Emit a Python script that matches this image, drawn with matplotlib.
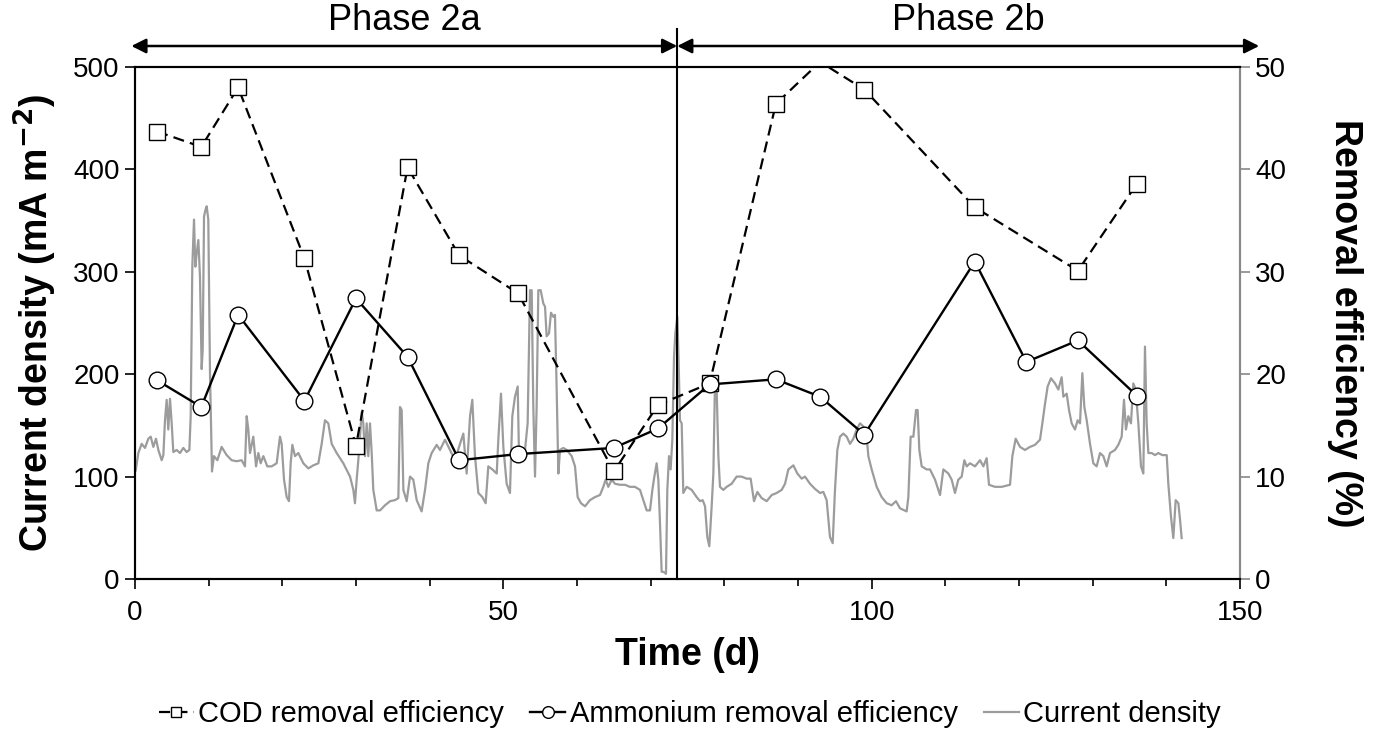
import matplotlib
matplotlib.use('Agg')
import matplotlib.pyplot as plt
from matplotlib.ticker import MultipleLocator

plt.rcParams['font.family'] = ['Liberation Sans', 'DejaVu Sans']

# sampling days and removal efficiencies (%)
cod_days = [3, 9, 14, 23, 30, 37, 44, 52, 65, 71, 78, 87, 93, 99, 114, 128, 136]
cod_removal = [43.7, 42.2, 48.0, 31.3, 13.0, 40.2, 31.6, 27.9, 10.5, 17.0, 19.1,
               46.4, 50.5, 47.8, 36.3, 30.1, 38.6]

nh4_days = [3, 9, 14, 23, 30, 37, 44, 52, 65, 71, 78, 87, 93, 99, 114, 121, 128, 136]
nh4_removal = [19.4, 16.8, 25.8, 17.4, 27.4, 21.7, 11.6, 12.2, 12.8, 14.7, 19.0,
               19.5, 17.8, 14.1, 31.0, 21.2, 23.3, 17.9]

# logged current density (mA m-2)
cd_days = [
    0.1, 0.45, 0.9, 1.36, 1.81, 2.13, 2.49, 2.85, 3.17, 3.62, 3.85, 4.07, 4.30, 4.52,
    4.75, 4.98, 5.20, 5.66, 6.11, 6.56, 7.01, 7.38, 7.56, 7.65, 7.78, 8.01, 8.19, 8.37,
    8.60, 8.82, 9.05, 9.19, 9.37, 9.55, 9.73, 9.95, 10.18, 10.32, 10.45, 10.72, 11.18,
    11.76, 12.44, 13.12, 13.80, 14.48, 14.93, 15.16, 15.38, 15.61, 16.06, 16.43, 16.74,
    17.06, 17.42, 17.96, 18.55, 19.23, 19.68, 19.91, 20.23, 20.59, 20.90, 21.13, 21.36,
    21.72, 22.17, 22.85, 23.53, 24.21, 24.89, 25.34, 25.79, 26.24, 26.70, 27.38, 28.28,
    29.19, 29.64, 29.86, 30.09, 30.36, 30.77, 30.99, 31.22, 31.45, 31.67, 31.90, 32.13,
    32.35, 32.81, 33.26, 33.94, 34.62, 35.29, 35.75,
    35.97, 36.20, 36.43, 36.88, 37.33, 37.78, 38.24, 38.91, 39.37, 39.82, 40.27, 40.95,
    41.40, 42.08, 42.76, 43.44, 44.12, 44.57, 45.02, 45.48, 45.79, 46.15, 46.61, 47.15,
    47.60, 47.96, 48.51, 49.10, 49.32, 49.68, 50.0, 50.45, 50.90, 51.22, 51.58, 51.95,
    52.13, 52.49, 52.94, 53.30, 53.62, 53.85, 54.07, 54.30, 54.52, 54.75, 55.07, 55.43,
    55.66, 55.88, 56.20, 56.47, 56.79, 57.01, 57.24, 57.47, 57.69, 58.14, 58.60, 59.28,
    59.73, 60.09, 60.54, 61.09, 61.76, 62.44, 63.12, 63.57, 63.89, 64.25, 64.71, 65.16,
    65.84, 66.52, 67.19, 67.87, 68.55, 69.0, 69.46, 69.91, 70.23, 70.50, 70.81, 71.04,
    71.27, 71.49, 71.76,
    72.08, 72.26, 72.49, 72.71, 72.94, 73.17, 73.35, 73.62, 73.8, 73.98, 74.21, 74.43,
    74.89, 75.57, 76.24, 76.70, 77.06, 77.38, 77.69, 77.96, 78.28, 78.51, 78.73, 78.96,
    79.19, 79.41, 79.86, 80.32, 80.99, 81.67, 82.35, 83.03, 83.57, 84.03, 84.48, 85.07,
    85.75, 86.43, 87.10, 87.78, 88.24, 88.69, 89.37, 89.91, 90.50, 90.95, 91.63, 92.31,
    92.99, 93.44, 93.89, 94.34, 94.71, 95.02, 95.34, 95.70, 96.15, 96.61, 97.06, 97.51,
    97.96, 98.42, 98.87, 99.32, 99.55, 100.0, 100.68, 101.36, 102.04, 102.71, 103.30,
    103.85, 104.75, 104.98, 105.29, 105.66, 106.02, 106.24, 106.47, 106.79, 107.47,
    107.92, 108.6, 109.28, 109.73, 110.41, 110.86, 111.31, 111.76, 112.22, 112.58,
    112.90, 113.35, 114.03, 114.71, 115.16, 115.61, 115.93, 116.74, 117.65, 118.78,
    119.10, 119.55, 120.14, 120.81, 121.49, 122.17, 122.85, 123.17, 123.53, 123.89,
    124.34, 124.89, 125.34, 125.79, 126.02, 126.47, 126.79, 127.15, 127.60, 127.96,
    128.28, 128.60, 128.87, 129.19, 129.64, 130.09, 130.54, 131.0, 131.45, 131.90,
    132.35, 133.03, 133.48, 133.94, 134.25, 134.52, 134.84, 135.20, 135.52, 135.84,
    136.20, 136.56, 136.88, 137.10, 137.33, 137.56, 138.01, 138.46, 138.91, 139.46,
    140.05, 140.27, 140.63, 140.95, 141.27, 141.63, 141.86, 142.08,
]
cd_values = [
    106, 123, 132, 128, 137, 139, 129, 137, 126, 116, 121, 155, 175, 146,
    176, 152, 124, 126, 123, 128, 124, 126, 159, 217, 305, 351, 305, 318,
    331, 295, 205, 224, 354, 360, 364, 351, 201, 152, 105, 120, 116,
    129, 121, 116, 115, 116, 110, 159, 146, 123, 139, 110, 123,
    113, 120, 110, 110, 113, 139, 132, 97, 80, 76, 113, 131,
    120, 123, 113, 108, 111, 113, 132, 155, 152, 132, 123, 113,
    100, 87, 74, 97, 120, 163, 152, 120, 152, 120, 152, 123,
    87, 67, 67, 72, 76, 77, 79,
    168, 165, 87, 76, 100, 97, 77, 66, 87, 113, 123, 131,
    126, 136, 126, 116, 132, 142, 103, 159, 175, 120, 84, 80,
    74, 110, 107, 103, 136, 181, 129, 93, 84, 159, 178, 188,
    120, 116, 126, 152, 282, 282, 168, 100, 168, 282, 282, 269,
    266, 237, 240, 260, 256, 258, 185, 103, 126, 128, 126, 120,
    110, 80, 74, 71, 77, 80, 82, 90, 97, 90, 97, 93,
    92, 92, 90, 90, 87, 77, 67, 67, 87, 100, 113, 97,
    54, 7, 7,
    5, 87, 120, 107, 136, 217, 240, 256, 211, 155, 152, 84,
    90, 87, 80, 76, 77, 71, 41, 32, 71, 103, 191, 185,
    120, 90, 87, 90, 93, 100, 100, 98, 98, 76, 85, 79,
    76, 82, 84, 87, 93, 107, 111, 103, 98, 100, 93, 88,
    84, 85, 77, 41, 35, 87, 126, 139, 142, 139, 132, 137,
    146, 152, 149, 139, 120, 107, 90, 80, 74, 72, 76,
    69, 66, 80, 139, 139, 165, 165, 126, 110, 107,
    107, 97, 82, 107, 103, 97, 84, 97, 100, 116,
    110, 113, 110, 116, 110, 118, 92, 90, 90, 92,
    120, 137, 129, 126, 129, 131, 136, 152, 171, 188,
    196, 191, 185, 197, 178, 181, 165, 152, 146, 155,
    152, 201, 168, 155, 132, 113, 110, 123, 120, 110,
    123, 126, 131, 139, 175, 146, 159, 152, 191, 185,
    152, 110, 103, 227, 152, 123, 123, 121, 123, 121,
    121, 93, 61, 40, 77, 74, 58, 40,
]

phase_names = ['Phase 2a', 'Phase 2b']
phase_change = 73.6

W, H = 1379, 736
fig = plt.figure(figsize=(W / 100, H / 100), dpi=100)
ax = fig.add_axes([135 / W, 157 / H, 1105 / W, 512 / H])
ax2 = ax.twinx()

# current density on the left axis, drawn underneath
cd_line, = ax.plot(cd_days, cd_values, color='#9c9c9c', lw=1.6,
                   label='Current density')

# removal efficiencies on the right axis; markers beyond 50 % are not shown
cod_marks = [i for i, v in enumerate(cod_removal) if v <= 50]
cod_line, = ax2.plot(cod_days, cod_removal, color='black', lw=1.6,
                     dashes=(5, 2.8), marker='s', ms=11, mfc='white', mec='black',
                     mew=1.0, markevery=cod_marks, label='COD removal efficiency')
nh4_line, = ax2.plot(nh4_days, nh4_removal, color='black', lw=1.7, marker='o',
                     ms=12, mfc='white', mec='black', mew=1.0,
                     label='Ammonium removal efficiency')

ax.set_xlim(0, 150)
ax.set_ylim(0, 500)
ax2.set_ylim(0, 50)
ax.xaxis.set_major_locator(MultipleLocator(50))
ax.xaxis.set_minor_locator(MultipleLocator(10))
ax.yaxis.set_major_locator(MultipleLocator(100))
ax2.yaxis.set_major_locator(MultipleLocator(10))

ax.tick_params(axis='both', which='major', direction='out', length=7, width=1.2,
               labelsize=20, pad=4)
ax.tick_params(axis='x', which='major', pad=8)
ax.tick_params(axis='x', which='minor', direction='out', length=5, width=1.2)
ax2.tick_params(axis='y', direction='out', length=7, width=1.2, color='#888888',
                labelsize=20, pad=4)

for sp in list(ax.spines.values()) + list(ax2.spines.values()):
    sp.set_linewidth(1.5)
ax2.spines['right'].set_color('#888888')
ax.spines['right'].set_color('#888888')

ax.set_xlabel('Time (d)', fontsize=27, fontweight='bold')
ax.set_ylabel('Current density (mA m$^{\\mathbf{-2}}$)', fontsize=27,
              fontweight='bold')
ax2.set_ylabel('Removal efficiency (%)', fontsize=27, fontweight='bold',
               rotation=270)
ax.xaxis.set_label_coords(0.5, -0.148)
ax.xaxis.label.set_verticalalignment('center')
ax.yaxis.set_label_coords(-0.09, 0.5)
ax.yaxis.label.set_verticalalignment('center')
ax2.yaxis.set_label_coords(1.095, 0.5)
ax2.yaxis.label.set_verticalalignment('center')

# phase divider and arrows above the plot
trans = ax.get_xaxis_transform()
ax.plot([phase_change, phase_change], [0, 1.075], transform=trans, color='black',
        lw=1.5, clip_on=False, zorder=6)
arrow_y = 1.041
spans = [(-0.5, phase_change), (phase_change, 152.6)]
for name, (x0, x1) in zip(phase_names, spans):
    ax.annotate('', xy=(x0, arrow_y), xytext=(x1, arrow_y), xycoords=trans,
                textcoords=trans, annotation_clip=False,
                arrowprops=dict(arrowstyle='<|-|>', color='black', lw=1.8,
                                mutation_scale=22, shrinkA=0, shrinkB=0))
    ax.text((x0 + x1) / 2, 1.090, name, transform=trans, ha='center',
            va='center', fontsize=26)

fig.legend(handles=[cod_line, nh4_line, cd_line], loc='center',
           bbox_to_anchor=(690 / W, 1 - 714 / H), ncol=3, frameon=False,
           fontsize=21, handlelength=1.2, handletextpad=0.15, columnspacing=0.9,
           markerscale=0.7)

fig.savefig('out.png', dpi=100)
